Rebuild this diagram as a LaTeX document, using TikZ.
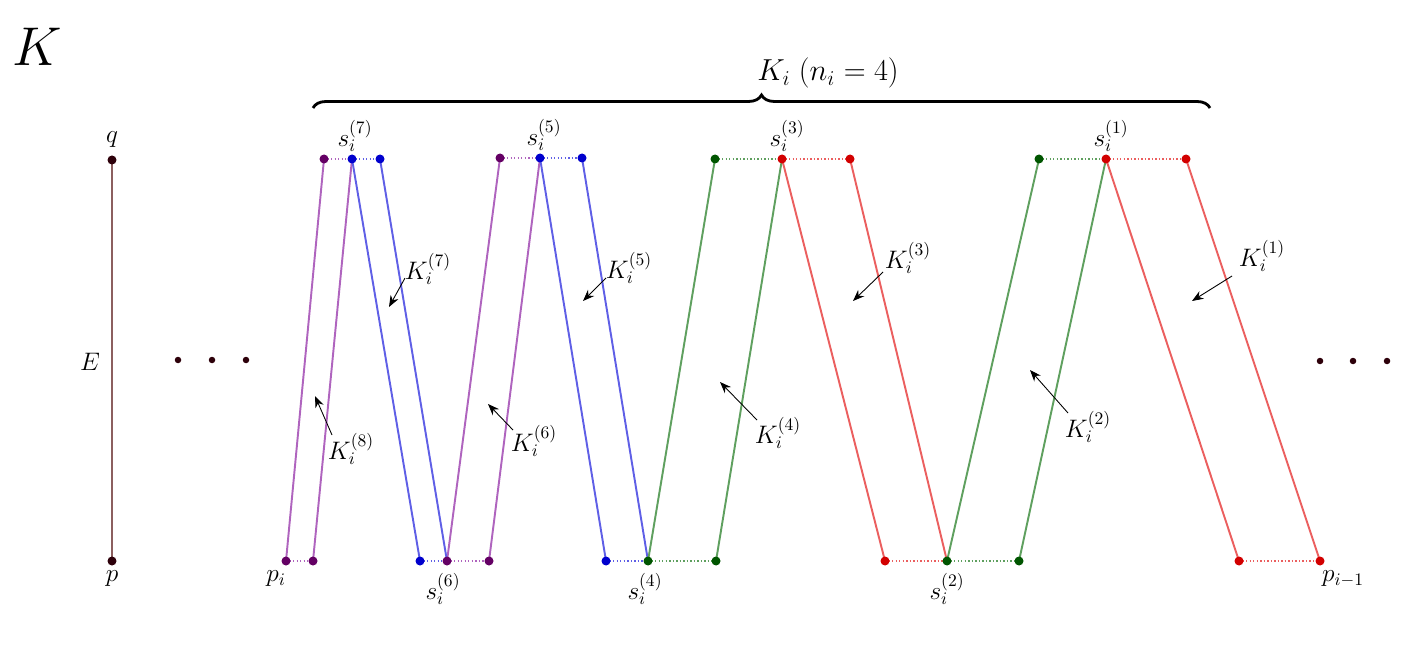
\documentclass[tikz,border=0pt]{standalone}
\usetikzlibrary{decorations.pathreplacing,arrows.meta}
\definecolor{purL}{RGB}{175,100,190}
\definecolor{purD}{RGB}{100,0,100}
\definecolor{bluL}{RGB}{95,95,230}
\definecolor{bluD}{RGB}{0,0,205}
\definecolor{grnL}{RGB}{95,160,95}
\definecolor{grnD}{RGB}{0,85,0}
\definecolor{redL}{RGB}{235,95,95}
\definecolor{redD}{RGB}{210,0,0}
\definecolor{brnL}{RGB}{140,95,95}
\definecolor{brnD}{RGB}{45,0,10}
\begin{document}
\begin{tikzpicture}[x=0.02cm,y=-0.02cm,
  lbl/.style={font=\fontsize{14.4}{17}\selectfont, inner sep=1pt},
  edge/.style={line width=1.1pt},
  dotline/.style={line width=0.8pt, dash pattern=on 0.8pt off 1.2pt},
  pt/.style={circle, fill=#1, inner sep=0pt, minimum size=0.18cm},
  smalldot/.style={circle, fill=brnD, inner sep=0pt, minimum size=0.13cm},
  arr/.style={-{Stealth[length=6.5pt,width=5pt]}, line width=0.5pt, black}]
\useasboundingbox (0,0) rectangle (1415,658);

% big K and brace
\node[font=\fontsize{24.88}{30}\selectfont, inner sep=0pt] (bigK) at (37,47) {\scalebox{1.25}{$K$}};
\coordinate (brL) at (313,108);
\coordinate (brR) at (1210,108);
\draw[line width=1.6pt, decorate, decoration={brace, amplitude=0.26cm}] (brL) -- (brR);
\node[font=\fontsize{17.28}{22}\selectfont, inner sep=0pt] (Klab) at (828,73) {$K_i\;(n_i = 4)$};

% edge E
\coordinate (q) at (112,160);
\coordinate (p) at (112,561);
\draw[edge, brnL] (q) -- (p);
\node[pt=brnD] (qd) at (q) {};
\node[pt=brnD] (pd) at (p) {};
\node[lbl] (ql) at (112,140) {$q$};
\node[lbl] (pl) at (112,579) {$p$};
\node[lbl] (El) at (90,362) {$E$};

% dots
\node[smalldot] (l1) at (178,360) {};
\node[smalldot] (l2) at (212,360) {};
\node[smalldot] (l3) at (246,360) {};
\node[smalldot] (r1) at (1320,361) {};
\node[smalldot] (r2) at (1353,361) {};
\node[smalldot] (r3) at (1387,361) {};

% top points
\coordinate (T1) at (324,159);
\coordinate (T2) at (352,159);
\coordinate (T3) at (380,159);
\coordinate (T4) at (500,158);
\coordinate (T5) at (540,158);
\coordinate (T6) at (582,158);
\coordinate (T7) at (715,159);
\coordinate (T8) at (782,159);
\coordinate (T9) at (850,159);
\coordinate (T10) at (1039,159);
\coordinate (T11) at (1106,159);
\coordinate (T12) at (1186,159);
% bottom points
\coordinate (B1) at (286,561);
\coordinate (B2) at (313,561);
\coordinate (B3) at (420,561);
\coordinate (B4) at (447,561);
\coordinate (B5) at (489,561);
\coordinate (B6) at (606,561);
\coordinate (B7) at (648,561);
\coordinate (B8) at (716,561);
\coordinate (B9) at (885,561);
\coordinate (B10) at (947,561);
\coordinate (B11) at (1019,561);
\coordinate (B12) at (1239,561);
\coordinate (B13) at (1320,561);

% dotted connectors
\draw[dotline, purL] (T1) -- (T2);
\draw[dotline, purL] (B1) -- (B2);
\draw[dotline, purL] (T4) -- (T5);
\draw[dotline, purL] (B4) -- (B5);
\draw[dotline, bluL] (T2) -- (T3);
\draw[dotline, bluL] (B3) -- (B4);
\draw[dotline, bluL] (T5) -- (T6);
\draw[dotline, bluL] (B6) -- (B7);
\draw[dotline, grnL] (T7) -- (T8);
\draw[dotline, grnL] (B7) -- (B8);
\draw[dotline, grnL] (T10) -- (T11);
\draw[dotline, grnL] (B10) -- (B11);
\draw[dotline, redL] (T8) -- (T9);
\draw[dotline, redL] (B9) -- (B10);
\draw[dotline, redL] (T11) -- (T12);
\draw[dotline, redL] (B12) -- (B13);

% solid edges
\draw[edge, purL] (B1) -- (T1);
\draw[edge, purL] (B2) -- (T2);
\draw[edge, purL] (B4) -- (T4);
\draw[edge, purL] (B5) -- (T5);
\draw[edge, bluL] (T2) -- (B3);
\draw[edge, bluL] (T3) -- (B4);
\draw[edge, bluL] (T5) -- (B6);
\draw[edge, bluL] (T6) -- (B7);
\draw[edge, grnL] (B7) -- (T7);
\draw[edge, grnL] (B8) -- (T8);
\draw[edge, grnL] (B10) -- (T10);
\draw[edge, grnL] (B11) -- (T11);
\draw[edge, redL] (T8) -- (B9);
\draw[edge, redL] (T9) -- (B10);
\draw[edge, redL] (T11) -- (B12);
\draw[edge, redL] (T12) -- (B13);

% point markers
\node[pt=purD] (dT1) at (T1) {};
\node[pt=bluD] (dT2) at (T2) {};
\node[pt=bluD] (dT3) at (T3) {};
\node[pt=purD] (dT4) at (T4) {};
\node[pt=bluD] (dT5) at (T5) {};
\node[pt=bluD] (dT6) at (T6) {};
\node[pt=grnD] (dT7) at (T7) {};
\node[pt=redD] (dT8) at (T8) {};
\node[pt=redD] (dT9) at (T9) {};
\node[pt=grnD] (dT10) at (T10) {};
\node[pt=redD] (dT11) at (T11) {};
\node[pt=redD] (dT12) at (T12) {};
\node[pt=purD] (dB1) at (B1) {};
\node[pt=purD] (dB2) at (B2) {};
\node[pt=bluD] (dB3) at (B3) {};
\node[pt=purD] (dB4) at (B4) {};
\node[pt=purD] (dB5) at (B5) {};
\node[pt=bluD] (dB6) at (B6) {};
\node[pt=grnD] (dB7) at (B7) {};
\node[pt=grnD] (dB8) at (B8) {};
\node[pt=redD] (dB9) at (B9) {};
\node[pt=grnD] (dB10) at (B10) {};
\node[pt=grnD] (dB11) at (B11) {};
\node[pt=redD] (dB12) at (B12) {};
\node[pt=redD] (dB13) at (B13) {};

% point labels
\node[lbl] (s7) at (355,136) {$s_i^{(7)}$};
\node[lbl] (s5) at (544,135) {$s_i^{(5)}$};
\node[lbl] (s3) at (787,136) {$s_i^{(3)}$};
\node[lbl] (s1) at (1111,136) {$s_i^{(1)}$};
\node[lbl] (s6) at (443,589) {$s_i^{(6)}$};
\node[lbl] (s4) at (645,589) {$s_i^{(4)}$};
\node[lbl] (s2) at (947,589) {$s_i^{(2)}$};
\node[lbl] (pil) at (276,579) {$p_i$};
\node[lbl] (pim) at (1343,579) {$p_{i-1}$};

% piece labels with arrows
\node[lbl] (K7) at (428,269) {$K_i^{(7)}$};
\coordinate (K7s) at (405,278); \coordinate (K7t) at (389,307);
\draw[arr] (K7s) -- (K7t);
\node[lbl] (K5) at (629,268) {$K_i^{(5)}$};
\coordinate (K5s) at (606,278); \coordinate (K5t) at (583,301);
\draw[arr] (K5s) -- (K5t);
\node[lbl] (K8) at (351,449) {$K_i^{(8)}$};
\coordinate (K8s) at (332,435); \coordinate (K8t) at (315,396);
\draw[arr] (K8s) -- (K8t);
\node[lbl] (K6) at (534,441) {$K_i^{(6)}$};
\coordinate (K6s) at (513,430); \coordinate (K6t) at (488,404);
\draw[arr] (K6s) -- (K6t);
\node[lbl] (K3) at (908,258) {$K_i^{(3)}$};
\coordinate (K3s) at (883,272); \coordinate (K3t) at (853,301);
\draw[arr] (K3s) -- (K3t);
\node[lbl] (K1) at (1262,256) {$K_i^{(1)}$};
\coordinate (K1s) at (1232,276); \coordinate (K1t) at (1192,301);
\draw[arr] (K1s) -- (K1t);
\node[lbl] (K4) at (778,433) {$K_i^{(4)}$};
\coordinate (K4s) at (757,420); \coordinate (K4t) at (720,382);
\draw[arr] (K4s) -- (K4t);
\node[lbl] (K2) at (1088,427) {$K_i^{(2)}$};
\coordinate (K2s) at (1068,413); \coordinate (K2t) at (1030,370);
\draw[arr] (K2s) -- (K2t);
\end{tikzpicture}
\end{document}
